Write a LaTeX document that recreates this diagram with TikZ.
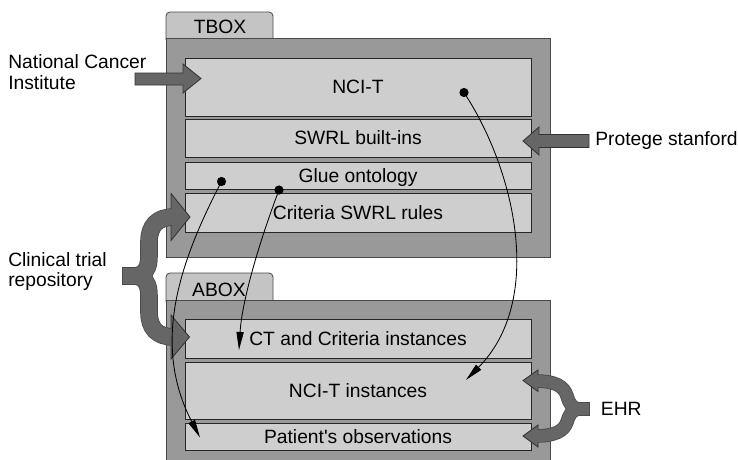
\documentclass[tikz,border=0pt]{standalone}
\usepackage{fontspec}
\setmainfont{Liberation Sans}
\usetikzlibrary{arrows.meta}
\definecolor{boxgray}{HTML}{999999}
\definecolor{tabgray}{HTML}{C4C4C4}
\definecolor{layergray}{HTML}{CECECE}
\definecolor{arrowgray}{HTML}{666666}
\definecolor{edgegray}{HTML}{4A4A4A}

\begin{document}
\begin{tikzpicture}[x=0.025cm,y=-0.025cm,
every node/.style={font=\fontsize{13.7}{14.8}\selectfont},
outerbox/.style={fill=boxgray,draw=edgegray,line width=0.6pt},
tabframe/.style={fill=tabgray,draw=edgegray,line width=0.6pt,rounded corners=0.1cm},
layerbox/.style={fill=layergray,draw=black!85,line width=0.6pt},
capstext/.style={text height=0.34cm,text depth=0cm,inner sep=0pt},
blockarrow/.style={fill=arrowgray,draw=black!80,line width=0.6pt},
link/.style={line width=0.6pt,-{Triangle[length=0.45cm,width=0.18cm]}},
linkdot/.style={circle,fill=black,inner sep=0pt,minimum size=0.23cm}]
\useasboundingbox (0,0) rectangle (738,460);
\clip (0,0) rectangle (738,460);
% TBOX
\filldraw[tabframe] (166,40)--(166,12)--(273,12)--(273,40);
\draw[outerbox] (166,38) rectangle (550,257);
\node[capstext] (tbox) at (220,26.7) {TBOX};
\draw[layerbox] (185,58) rectangle (531,116);
\node[capstext] (ncit) at (358,87) {NCI-T};
\draw[layerbox] (185,119) rectangle (531,157);
\node[capstext] (swrl) at (358,138) {SWRL built-ins};
\draw[layerbox] (185,162) rectangle (531,189);
\node[capstext] (glue) at (358,175.5) {Glue ontology};
\draw[layerbox] (185,193) rectangle (531,232);
\node[capstext] (rules) at (358,212.5) {Criteria SWRL rules};
% ABOX
\filldraw[tabframe] (166,302)--(166,273)--(273,273)--(273,302);
\draw[outerbox] (166,300) rectangle (550,475);
\node[capstext] (abox) at (219,290) {ABOX};
\draw[layerbox] (185,319) rectangle (531,358);
\node[capstext] (ctinst) at (358,338.5) {CT and Criteria instances};
\draw[layerbox] (185,362) rectangle (531,419);
\node[capstext] (nciinst) at (358,390.5) {NCI-T instances};
\draw[layerbox] (185,423) rectangle (531,450);
\node[capstext] (obs) at (358,436.5) {Patient\textquotesingle s observations};
% sources
\node[anchor=north west,align=left,inner sep=0pt] (nci) at (8,54.5) {National Cancer\\Institute};
\node[anchor=base west,inner sep=0pt] (protege) at (595,145.5) {Protege stanford};
\node[anchor=north west,align=left,inner sep=0pt] (ctrepo) at (8,251.8) {Clinical trial\\repository};
\node[anchor=base west,inner sep=0pt] (ehr) at (600.7,415.7) {EHR};
% block arrows
\filldraw[blockarrow] (135,73)--(183,73)--(183,64)--(201,78.5)--(183,93)--(183,85)--(135,85)--cycle;
\filldraw[blockarrow] (589,134.5)--(539,134.5)--(539,127)--(523,141)--(539,155)--(539,147.5)--(589,147.5)--cycle;
% clinical trial brace
\draw[edgegray,line width=0.44cm] (122.2,276)--(133,276) .. controls (145,276) and (149,268) .. (149,256)--(149,242) .. controls (149,226) and (157,217) .. (174,217);
\draw[edgegray,line width=0.44cm] (133,276) .. controls (145,276) and (149,284) .. (149,296)--(149,312) .. controls (149,328) and (157,337) .. (174,337);
\filldraw[blockarrow] (171,193.5)--(190,217)--(171,240.5)--cycle;
\filldraw[blockarrow] (171,315)--(189.5,337)--(171,359)--cycle;
\draw[arrowgray,line width=0.4cm] (123,276)--(133,276) .. controls (145,276) and (149,268) .. (149,256)--(149,242) .. controls (149,226) and (157,217) .. (174,217);
\draw[arrowgray,line width=0.4cm] (133,276) .. controls (145,276) and (149,284) .. (149,296)--(149,312) .. controls (149,328) and (157,337) .. (174,337);
% EHR brace
\draw[edgegray,line width=0.34cm] (589.8,409)--(580,409) .. controls (572,409) and (569,403) .. (567,396) .. controls (564,386) and (555,381) .. (535,381);
\draw[edgegray,line width=0.34cm] (580,409) .. controls (572,409) and (569,415) .. (567,422) .. controls (564,431) and (555,436) .. (535,436);
\filldraw[blockarrow] (538,370)--(523,380.5)--(538,391.5)--cycle;
\filldraw[blockarrow] (538,425)--(523,436)--(538,447)--cycle;
\draw[arrowgray,line width=0.3cm] (589,409)--(580,409) .. controls (572,409) and (569,403) .. (567,396) .. controls (564,386) and (555,381) .. (535,381);
\draw[arrowgray,line width=0.3cm] (580,409) .. controls (572,409) and (569,415) .. (567,422) .. controls (564,431) and (555,436) .. (535,436);
% links
\node[linkdot] (ncidot) at (464,92.5) {};
\node[linkdot] (gluedot) at (221.5,181.5) {};
\node[linkdot] (rulesdot) at (279,190) {};
\coordinate (nciend) at (466,380);
\coordinate (obsend) at (200,437.5);
\coordinate (ctend) at (239,350);
\draw[link] (ncidot.center) .. controls (515,170) and (545,300) .. (nciend);
\draw[link] (gluedot.center) .. controls (178,265) and (152,345) .. (obsend);
\draw[link] (rulesdot.center) .. controls (260,240) and (242,300) .. (ctend);
\end{tikzpicture}
\end{document}
